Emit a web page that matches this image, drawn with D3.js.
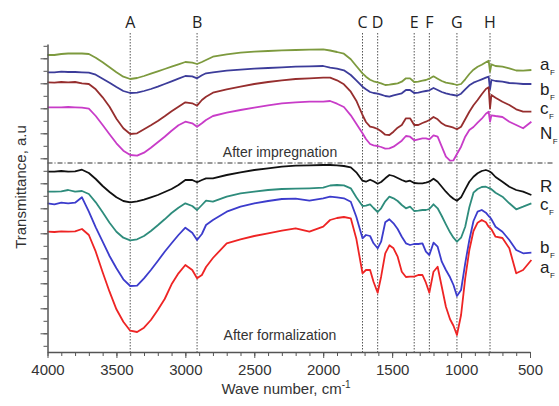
<!DOCTYPE html>
<html>
<head>
<meta charset="utf-8">
<script src="https://cdn.jsdelivr.net/npm/d3@7"></script>
<style>
  body { margin: 0; background: #fff; }
  svg { display: block; font-family: "Liberation Sans", Arial, sans-serif; }
</style>
</head>
<body>
<div id="chart-area"></div>
<script>
// wave numbers (cm-1), shared by all spectra
let waveNumbers = [4000, 3950, 3900, 3850, 3800, 3750, 3700, 3650, 3600, 3550, 3500, 3450, 3400, 3350, 3300, 3250, 3200, 3150, 3100, 3050, 3000, 2950, 2915, 2880, 2850,
  2800, 2700, 2600, 2500, 2400, 2300, 2200, 2100, 2000,
  1950, 1900, 1850, 1800, 1760, 1715, 1690, 1660, 1635, 1605, 1580, 1550, 1520, 1490, 1460, 1430, 1400, 1370, 1340, 1310, 1280, 1255, 1230, 1200, 1170, 1140, 1110, 1080, 1055, 1030, 1000, 970, 940, 910, 880, 850, 820, 800, 790, 780, 750, 700, 650, 600, 550, 490];

// transmittance (a.u., curves stacked with offsets) - after impregnation
let impAF = [297, 297, 298, 298.5, 298.5, 298.5, 298, 294.3, 289.7, 284.7, 279.7, 275.3, 273, 274, 276, 278.3, 280.7, 283, 285.3, 287.7, 290, 289.3, 288, 290, 292,
  295.3, 297.7, 299.3, 300.3, 301, 301.7, 302, 302.3, 302.7,
  301.5, 300, 298.3, 292.7, 286, 278.7, 275.3, 272.3, 270.7, 269.7, 268.7, 267, 267.3, 268, 268.7, 270.3, 273.7, 273.7, 270, 270.3, 271.3, 272, 273.3, 275.7, 273.3, 271, 269.3, 268.7, 268, 267, 268, 272.7, 278, 282.3, 285.3, 287.3, 289.7, 291.3, 280.3, 287.7, 286, 285.3, 283.7, 281.5, 281.3, 282];
let impBF = [279.7, 279.7, 280.3, 280, 280, 279.7, 279.3, 277.3, 273.3, 269.3, 265, 261, 259, 259.3, 261, 263, 265.3, 268, 270.7, 273.3, 276, 275.7, 273.7, 276.7, 278.7,
  279.7, 281.3, 282.3, 283.3, 284, 284.7, 285.3, 285.7, 286,
  284.3, 283.3, 281.7, 277, 271.7, 265.3, 262.7, 260, 259, 258.3, 257.3, 256, 255.3, 256.7, 257.7, 258.7, 262, 262, 259, 259.3, 260.3, 261, 261.7, 264, 262, 260, 258.7, 257.7, 257, 256.3, 258.3, 262.7, 266.7, 269.3, 271, 272.7, 274.3, 275.3, 262.7, 272, 271, 270.3, 269, 268.7, 268, 268];
let impCF = [269.7, 269.3, 270, 269.7, 270, 268.7, 268, 262.7, 254.7, 245.3, 233.3, 223.7, 218, 218.7, 222.7, 226.7, 231, 235.7, 240.7, 245.3, 249.7, 248.7, 246.3, 252, 255.3,
  259.3, 262.7, 265.3, 268, 270, 271.7, 273, 273.7, 274.3,
  274.3, 271.7, 267.7, 260.3, 251.3, 237, 230, 225.3, 224.7, 223, 220.7, 217.3, 217, 220.3, 224.3, 227, 233.7, 233.7, 227, 227, 229, 230.3, 232, 235, 232.7, 228.7, 226.3, 225.3, 224.3, 222.7, 225.3, 232.7, 240.3, 246.7, 252, 257.7, 263, 264.7, 243.7, 257, 254.3, 250.3, 247, 242.7, 240.3, 240.3];
let impNF = [244.7, 244.7, 244.7, 245, 244.7, 244.3, 243.3, 236, 227, 217.7, 208.7, 201.3, 197, 196.3, 199.3, 204.3, 209.7, 215.3, 221.3, 226.7, 230.3, 228.7, 225.3, 228.7, 232,
  236, 239.3, 242, 244.3, 246.7, 248.7, 249.7, 250.3, 250.3,
  251, 248.3, 245, 236.7, 228.3, 218.7, 213, 208, 206.7, 206, 205, 203.3, 203.7, 205.3, 208.3, 211.3, 216, 215.3, 211.7, 212.7, 213.7, 213.7, 212.7, 216.7, 215.3, 205.3, 195.3, 191.3, 191.7, 198, 205.3, 215.3, 222, 225, 229.3, 233.3, 238.3, 240.3, 230.3, 236.7, 236, 235, 230.3, 227, 223.7, 230.3];

// after formalization
let formR = [180.3, 180.3, 181, 180.3, 180.7, 182.3, 179, 173, 166, 160, 154.7, 151, 149.7, 150.7, 152.3, 154.7, 157, 160, 163, 167, 172, 172, 169.7, 172, 173.7,
  173.7, 177, 179.7, 182, 183.7, 185.3, 186.3, 186.7, 187,
  187, 186.7, 186, 184.7, 179.7, 171.3, 170.3, 172.3, 170.7, 168.3, 170, 173.7, 177, 176, 174, 172, 170.3, 171.3, 169, 168.7, 168.7, 169.3, 170.3, 173.3, 170.3, 165.3, 160.3, 156, 153.3, 151.3, 154.7, 162.7, 170.3, 175.3, 178.7, 181, 182, 181, 180.3, 179.3, 175, 170.3, 165.3, 162, 160.3, 157];
let formCF = [160.3, 160.3, 160.7, 162, 160.3, 161, 158, 149.7, 139.7, 129.3, 120.3, 114.3, 111.7, 112.7, 116, 121, 126.7, 132.7, 139, 144.3, 148.7, 146, 142, 147, 151.3,
  150.3, 155.3, 158.7, 160.3, 162, 163, 163.3, 163.7, 164.3,
  166.5, 167, 166.7, 163.7, 154.7, 146, 146.3, 147.7, 144, 140, 143.7, 150.7, 155.3, 153.7, 151, 147, 143.7, 145.3, 141, 141.3, 142, 142, 143, 147.7, 143.7, 136, 127.7, 119.7, 114.3, 110.3, 114.3, 125.3, 144.7, 159.3, 163, 165, 165.3, 164, 163.7, 162.7, 159.3, 155.3, 148.7, 142.7, 145.3, 148.7];
let formBF = [148.7, 147.7, 149.3, 148.7, 149.3, 154.7, 140.3, 124.7, 110.3, 96, 83.7, 72.7, 66, 66.3, 73.7, 82, 91, 100.3, 108.7, 117, 124.3, 119.3, 112, 118, 127,
  132, 140.3, 145.3, 148.7, 151, 153, 153.3, 151.3, 153.7,
  155.3, 154.7, 153.7, 150.3, 135.3, 113.7, 117, 116, 108.7, 103.7, 110.3, 129.7, 132.7, 128.7, 123, 115.3, 108.7, 107, 108, 108, 108.7, 100.3, 97, 109.3, 105.3, 90.3, 82, 74.7, 67, 56, 62, 88.7, 112, 131, 140.3, 142, 139.3, 136, 134.7, 132.7, 125.3, 120.3, 112, 102, 98.7, 99.3];
let formAF = [120.3, 120, 120.7, 120.3, 120.7, 123, 117, 100.3, 79.7, 60.3, 42.7, 30.3, 21.3, 20, 24.3, 32, 42, 53, 67.7, 78.7, 87, 82, 73.7, 77, 85,
  94, 108.7, 112.7, 116, 118.7, 121.3, 123.7, 120.3, 125.3,
  132, 134, 135, 133.7, 113.3, 78.7, 82, 82, 70.3, 59.3, 75.3, 98.7, 106.7, 103.7, 95.3, 80.3, 75, 75.3, 75.3, 77, 77, 69.3, 59.3, 80.3, 85.3, 65.3, 45.3, 32.7, 26.3, 17, 37, 73.7, 102, 121, 129.3, 132, 129.7, 125.3, 124.3, 122.7, 115.3, 114, 103.7, 78.7, 82, 92];

let seriesNames = ["a", "b", "c", "N", "R", "c", "b", "a"];
let seriesSubs = ["F", "F", "F", "F", "", "F", "F", "F"];
let seriesColors = ["#7d9a3e", "#3c3c9a", "#962e2e", "#c83cc8", "#111111", "#2e8c7c", "#3c3ccc", "#ee2424"];
let labelBaselines = [70, 95, 114, 139, 192, 210, 253, 273];

// band markers
let bandWaves = [3400, 2915, 1715, 1605, 1340, 1230, 1030, 790];
let bandLabels = ["A", "B", "C", "D", "E", "F", "G", "H"];

let xTickLabels = [4000, 3500, 3000, 2500, 2000, 1500, 1000, 500];
let separatorLevel = 189;

let allSeries = [impAF, impBF, impCF, impNF, formR, formCF, formBF, formAF];

let width = 559, height = 406;

let svg = d3.select("#chart-area")
            .append("svg")
            .attr("width", width)
            .attr("height", height);

let x = d3.scaleLinear().domain([4000, 500]).range([47.5, 530]);
let y = d3.scaleLinear().domain([0, 308]).range([352, 44]);

// dotted band lines + letters
let bands = svg.append("g");
bands.selectAll("line")
    .data(bandWaves)
    .enter().append("line")
    .attr("x1", d => x(d)).attr("x2", d => x(d))
    .attr("y1", 33).attr("y2", y(0))
    .attr("stroke", "#555")
    .attr("stroke-width", 1)
    .attr("stroke-dasharray", "1.5,1.5");
bands.selectAll("text")
    .data(bandWaves)
    .enter().append("text")
    .attr("x", d => x(d))
    .attr("y", 28)
    .attr("text-anchor", "middle")
    .attr("font-family", "'Open Sans', sans-serif")
    .attr("font-size", "16px")
    .attr("fill", "#222")
    .text((d, i) => bandLabels[i]);

// separator between the two groups
svg.append("line")
    .attr("x1", x(4000)).attr("x2", 553)
    .attr("y1", y(separatorLevel)).attr("y2", y(separatorLevel))
    .attr("stroke", "#333")
    .attr("stroke-width", 1)
    .attr("stroke-dasharray", "5,2,1,2");

svg.append("text")
    .attr("x", 280).attr("y", 156.5)
    .attr("text-anchor", "middle")
    .attr("font-size", "14px")
    .attr("fill", "#333")
    .text("After impregnation");

svg.append("text")
    .attr("x", 280).attr("y", 340)
    .attr("text-anchor", "middle")
    .attr("font-size", "14px")
    .attr("fill", "#333")
    .text("After formalization");

// spectra
let line = d3.line()
    .x((d, i) => x(waveNumbers[i]))
    .y(d => y(d));

svg.append("g").selectAll("path")
    .data(allSeries)
    .enter().append("path")
    .attr("d", line)
    .attr("fill", "none")
    .attr("stroke", (d, i) => seriesColors[i])
    .attr("stroke-width", 1.8)
    .attr("stroke-linejoin", "round");

// series labels on the right (letter + small subscript F)
let labels = svg.append("g").selectAll("text")
    .data(seriesNames)
    .enter().append("text")
    .attr("x", 540)
    .attr("y", (d, i) => labelBaselines[i])
    .attr("font-size", "17px")
    .attr("fill", "#222");
labels.append("tspan").text(d => d);
labels.append("tspan")
    .attr("dx", 0.5)
    .attr("dy", 5)
    .attr("font-size", "8px")
    .text((d, i) => seriesSubs[i]);

// x axis
let xMinor = svg.append("g")
    .attr("transform", "translate(0," + y(0) + ")")
    .call(d3.axisBottom(x).tickValues(d3.range(500, 4001, 100)).tickSize(4).tickSizeOuter(0).tickFormat(""));
xMinor.select(".domain").remove();

let xAxis = svg.append("g")
    .attr("transform", "translate(0," + y(0) + ")")
    .call(d3.axisBottom(x).tickValues(xTickLabels).tickSize(6).tickSizeOuter(0).tickPadding(6).tickFormat(d3.format("d")));
xAxis.selectAll("text").attr("font-size", "15px").attr("fill", "#333");

// y axis
let yMinor = svg.append("g")
    .attr("transform", "translate(" + x(4000) + ",0)")
    .call(d3.axisLeft(y).tickValues(d3.range(6.2, 307, 12.5)).tickSize(4).tickSizeOuter(0).tickFormat(""));
yMinor.select(".domain").remove();

let yAxis = svg.append("g")
    .attr("transform", "translate(" + x(4000) + ",0)")
    .call(d3.axisLeft(y).tickValues(d3.range(18.7, 307, 25)).tickSize(7).tickSizeOuter(0).tickFormat(""));

svg.selectAll(".domain, .tick line").attr("stroke", "#555");
svg.selectAll(".domain").attr("stroke-width", 1.5);

// axis titles
let xTitle = svg.append("text")
    .attr("x", 286).attr("y", 394)
    .attr("text-anchor", "middle")
    .attr("font-size", "15px")
    .attr("fill", "#333");
xTitle.append("tspan").text("Wave number, cm");
xTitle.append("tspan").attr("dy", -6).attr("font-size", "10px").text("-1");

svg.append("text")
    .attr("transform", "translate(26,187) rotate(-90)")
    .attr("text-anchor", "middle")
    .attr("font-size", "15px")
    .attr("fill", "#333")
    .text("Transmittance, a.u");
</script>
</body>
</html>
